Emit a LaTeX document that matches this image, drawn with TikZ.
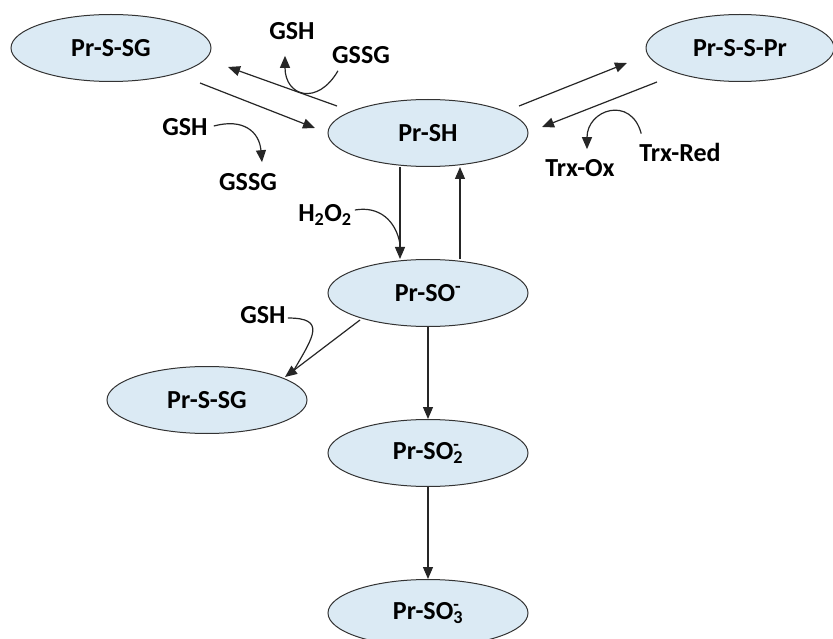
\documentclass[tikz,border=0pt]{standalone}
\usepackage{fontspec}
\setmainfont{Carlito}
\usepackage{tikz}
\usetikzlibrary{shapes.geometric, arrows.meta, positioning}
\definecolor{cellblue}{RGB}{219,234,244}
\tikzstyle{species} = [ellipse, minimum width=200pt, minimum height=67pt, inner sep=0pt, text centered, draw=black!80, line width=1pt, fill=cellblue, font=\fontsize{26}{30}\selectfont\bfseries]
\tikzstyle{reagent} = [inner sep=0pt, font=\fontsize{26}{30}\selectfont\bfseries]
\tikzstyle{arrow} = [line width=1.2pt, draw=black!85, -{Triangle[length=12pt,width=10pt]}]
\tikzstyle{sidearrow} = [line width=1.2pt, draw=black!85, -{Triangle[length=12pt,width=10pt]}]
\tikzstyle{sideline} = [line width=1.2pt, draw=black!85]

\begin{document}
\begin{tikzpicture}[x=1pt, y=1pt, node distance=160pt]
            \useasboundingbox (0,0) rectangle (833,-639);
            % main chain
            \node (prsh) [species] at (428,-133) {Pr-SH};
            \node (prso) [species, below of=prsh] {Pr-SO\textsuperscript{-}};
            \node (prso2) [species, below of=prso] {Pr-SO\rlap{\textsuperscript{-}}\textsubscript{2}};
            \node (prso3) [species, below of=prso2] {Pr-SO\rlap{\textsuperscript{-}}\textsubscript{3}};
            % side products
            \node (prssg) [species] at (111,-48) {Pr-S-SG};
            \node (prsspr) [species, minimum width=188pt] at (740,-48) {Pr-S-S-Pr};
            \node (prssgb) [species] at (207,-400) {Pr-S-SG};
            % reagents
            \node (gsha) [reagent] at (292,-31) {GSH};
            \node (gssga) [reagent] at (361,-55) {GSSG};
            \node (gshb) [reagent] at (185,-127) {GSH};
            \node (gssgb) [reagent] at (248,-182) {GSSG};
            \node (trxred) [reagent] at (680,-152) {Trx-Red};
            \node (trxox) [reagent] at (580,-168) {Trx-Ox};
            \node (hoo) [reagent] at (325,-215) {H\textsubscript{2}O\textsubscript{2}};
            \node (gshc) [reagent] at (263,-315) {GSH};

            \draw [arrow] ([shift={(89,-35)}]prssg.center) -- ([shift={(-113,5)}]prsh.center);
            \draw [arrow] ([shift={(-91,27)}]prsh.center) -- ([shift={(117,-19)}]prssg.center);
            \draw [arrow] ([shift={(91,27)}]prsh.center) -- ([shift={(-113,-15)}]prsspr.center);
            \draw [arrow] ([shift={(-83,-34)}]prsspr.center) -- ([shift={(114,6)}]prsh.center);
            \draw [arrow] ([xshift=-28pt]prsh.south) -- ([xshift=-28pt]prso.north);
            \draw [arrow] ([xshift=32pt]prso.north) -- ([xshift=32pt]prsh.south);
            \draw [arrow] ([shift={(-68,-27)}]prso.center) -- ([shift={(78,23)}]prssgb.center);
            \draw [arrow] (prso) -- (prso2);
            \draw [arrow] (prso2) -- (prso3);

            % cofactors
            \coordinate (hooend) at ([shift={(-28,15)}]prso.north);
            \coordinate (gshcend) at ([shift={(87,30)}]prssgb.center);
            \draw [sidearrow] ([shift={(6,-7)}]gssga.south west) to[out=-120, in=-90, looseness=1.9] ([shift={(-7,-16)}]gsha.south);
            \draw [sidearrow] ([shift={(6,1)}]gshb.east) to[out=15, in=95, looseness=1.3] ([shift={(14,11)}]gssgb.north);
            \draw [sidearrow] ([shift={(2,9)}]trxred.north west) to[out=105, in=90, looseness=1.8] ([shift={(7,10)}]trxox.north);
            \draw [sideline] ([shift={(3,5)}]hoo.east) to[out=10, in=100, looseness=1.1] (hooend);
            \draw [sideline] ([shift={(2,-3)}]gshc.east) to[out=0, in=60, looseness=1.9] (gshcend);
        \end{tikzpicture}
\end{document}
